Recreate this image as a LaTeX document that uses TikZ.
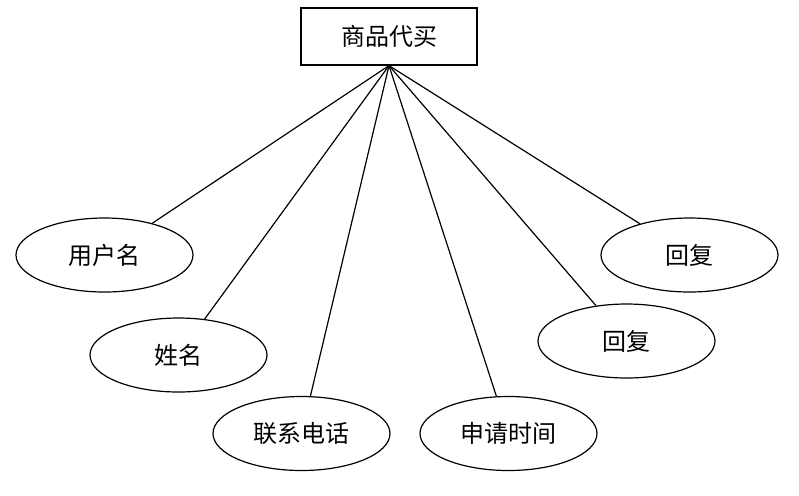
\documentclass[tikz,border=0pt]{standalone}
\usepackage{fontspec}
\usepackage{tikz}
\usetikzlibrary{shapes.geometric}
\newfontfamily\cjk{Noto Sans CJK SC}
\definecolor{linecolor}{HTML}{000000}

\begin{document}
\begin{tikzpicture}[
    x=0.5pt, y=-0.5pt,
    entity/.style={rectangle, draw=linecolor, line width=0.6pt,
                minimum width=88pt, minimum height=28.5pt, inner sep=0pt,
                font=\cjk\fontsize{12}{14}\selectfont},
    attr/.style={ellipse, draw=linecolor, line width=0.6pt,
                minimum width=88.5pt, minimum height=37pt, inner sep=0pt,
                font=\cjk\fontsize{12}{14}\selectfont},
    link/.style={line width=0.6pt, color=linecolor}
]
\useasboundingbox (0,0) rectangle (799,495);

\node[entity] (buy) at (389,36.5) {商品代买};

\node[attr] (user) at (104.5,255) {用户名};
\node[attr] (name) at (178.5,355) {姓名};
\node[attr] (phone) at (301.5,433.5) {联系电话};
\node[attr] (time) at (508.5,433.5) {申请时间};
\node[attr] (reply2) at (626.5,341) {回复};
\node[attr] (reply1) at (689.5,255) {回复};

\foreach \n in {user, name, phone, time, reply2, reply1}
    \draw[link] (buy.south) -- (\n);

\end{tikzpicture}
\end{document}
